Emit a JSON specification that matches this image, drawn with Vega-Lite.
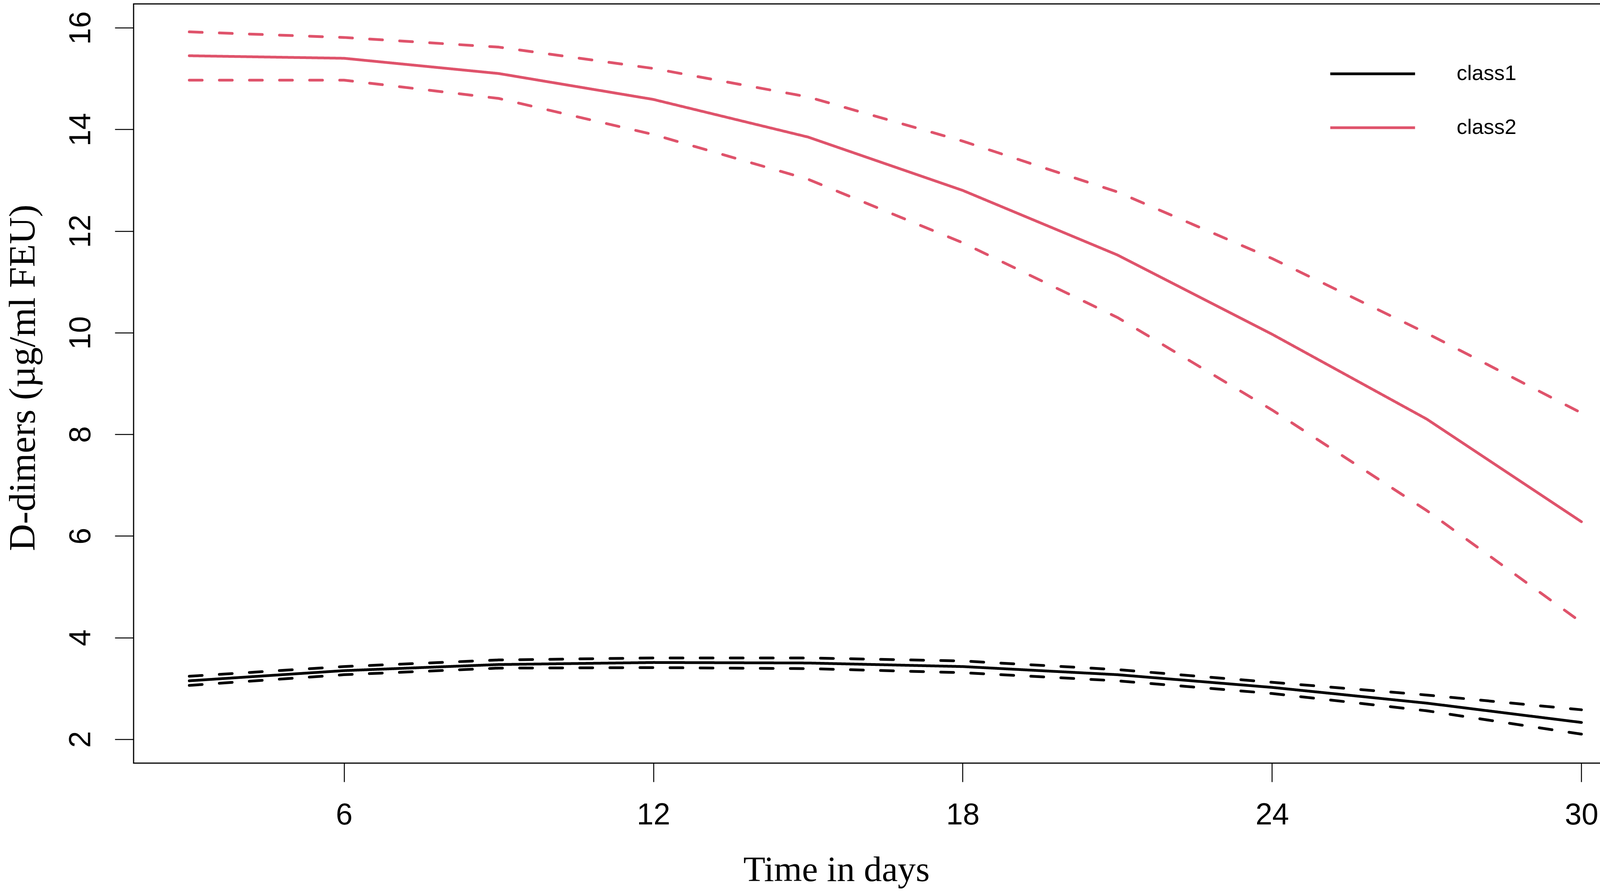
{
  "$schema": "https://vega.github.io/schema/vega-lite/v6.json",
  "autosize": {"type": "none"},
  "width": 3849,
  "height": 1944,
  "padding": {"left": 342, "top": 10, "right": 9, "bottom": 330},
  "background": "white",
  "config": {
    "view": {"stroke": "black", "strokeWidth": 3},
    "axis": {
      "domain": false,
      "grid": false,
      "ticks": true,
      "tickColor": "black",
      "tickWidth": 2.5,
      "tickSize": 48,
      "labelFont": "Liberation Sans",
      "labelFontSize": 77,
      "labelColor": "black",
      "titleFont": "Liberation Serif",
      "titleFontWeight": "normal",
      "titleColor": "black"
    }
  },
  "data": {
    "values": [
      {"class": "class1", "bound": "mean", "day": 3, "value": 3.15},
      {"class": "class1", "bound": "mean", "day": 6, "value": 3.35},
      {"class": "class1", "bound": "mean", "day": 9, "value": 3.47},
      {"class": "class1", "bound": "mean", "day": 12, "value": 3.51},
      {"class": "class1", "bound": "mean", "day": 15, "value": 3.5},
      {"class": "class1", "bound": "mean", "day": 18, "value": 3.43},
      {"class": "class1", "bound": "mean", "day": 21, "value": 3.27},
      {"class": "class1", "bound": "mean", "day": 24, "value": 3.02},
      {"class": "class1", "bound": "mean", "day": 27, "value": 2.71},
      {"class": "class1", "bound": "mean", "day": 30, "value": 2.33},
      {"class": "class1", "bound": "upper", "day": 3, "value": 3.24},
      {"class": "class1", "bound": "upper", "day": 6, "value": 3.43},
      {"class": "class1", "bound": "upper", "day": 9, "value": 3.56},
      {"class": "class1", "bound": "upper", "day": 12, "value": 3.6},
      {"class": "class1", "bound": "upper", "day": 15, "value": 3.6},
      {"class": "class1", "bound": "upper", "day": 18, "value": 3.54},
      {"class": "class1", "bound": "upper", "day": 21, "value": 3.37},
      {"class": "class1", "bound": "upper", "day": 24, "value": 3.12},
      {"class": "class1", "bound": "upper", "day": 27, "value": 2.87},
      {"class": "class1", "bound": "upper", "day": 30, "value": 2.58},
      {"class": "class1", "bound": "lower", "day": 3, "value": 3.06},
      {"class": "class1", "bound": "lower", "day": 6, "value": 3.27},
      {"class": "class1", "bound": "lower", "day": 9, "value": 3.4},
      {"class": "class1", "bound": "lower", "day": 12, "value": 3.41},
      {"class": "class1", "bound": "lower", "day": 15, "value": 3.39},
      {"class": "class1", "bound": "lower", "day": 18, "value": 3.31},
      {"class": "class1", "bound": "lower", "day": 21, "value": 3.15},
      {"class": "class1", "bound": "lower", "day": 24, "value": 2.9},
      {"class": "class1", "bound": "lower", "day": 27, "value": 2.56},
      {"class": "class1", "bound": "lower", "day": 30, "value": 2.1},
      {"class": "class2", "bound": "mean", "day": 3, "value": 15.45},
      {"class": "class2", "bound": "mean", "day": 6, "value": 15.4},
      {"class": "class2", "bound": "mean", "day": 9, "value": 15.1},
      {"class": "class2", "bound": "mean", "day": 12, "value": 14.59},
      {"class": "class2", "bound": "mean", "day": 15, "value": 13.85},
      {"class": "class2", "bound": "mean", "day": 18, "value": 12.8},
      {"class": "class2", "bound": "mean", "day": 21, "value": 11.53},
      {"class": "class2", "bound": "mean", "day": 24, "value": 9.97},
      {"class": "class2", "bound": "mean", "day": 27, "value": 8.3},
      {"class": "class2", "bound": "mean", "day": 30, "value": 6.28},
      {"class": "class2", "bound": "upper", "day": 3, "value": 15.92},
      {"class": "class2", "bound": "upper", "day": 6, "value": 15.81},
      {"class": "class2", "bound": "upper", "day": 9, "value": 15.62},
      {"class": "class2", "bound": "upper", "day": 12, "value": 15.2},
      {"class": "class2", "bound": "upper", "day": 15, "value": 14.64},
      {"class": "class2", "bound": "upper", "day": 18, "value": 13.77},
      {"class": "class2", "bound": "upper", "day": 21, "value": 12.77},
      {"class": "class2", "bound": "upper", "day": 24, "value": 11.46},
      {"class": "class2", "bound": "upper", "day": 27, "value": 9.99},
      {"class": "class2", "bound": "upper", "day": 30, "value": 8.42},
      {"class": "class2", "bound": "lower", "day": 3, "value": 14.97},
      {"class": "class2", "bound": "lower", "day": 6, "value": 14.97},
      {"class": "class2", "bound": "lower", "day": 9, "value": 14.61},
      {"class": "class2", "bound": "lower", "day": 12, "value": 13.9},
      {"class": "class2", "bound": "lower", "day": 15, "value": 13.02},
      {"class": "class2", "bound": "lower", "day": 18, "value": 11.77},
      {"class": "class2", "bound": "lower", "day": 21, "value": 10.3},
      {"class": "class2", "bound": "lower", "day": 24, "value": 8.48},
      {"class": "class2", "bound": "lower", "day": 27, "value": 6.5},
      {"class": "class2", "bound": "lower", "day": 30, "value": 4.3}
    ]
  },
  "mark": {"type": "line", "strokeWidth": 7, "strokeCap": "round", "strokeJoin": "round"},
  "encoding": {
    "x": {
      "field": "day",
      "type": "quantitative",
      "scale": {"domain": [1.92, 31.08], "nice": false, "zero": false},
      "axis": {
        "values": [6, 12, 18, 24, 30],
        "labelPadding": 108,
        "labelBaseline": "alphabetic",
        "labelAlign": "center",
        "title": "Time in days",
        "titleFontSize": 92,
        "titleX": 1799,
        "titleY": 301,
        "titleAlign": "center",
        "titleBaseline": "alphabetic"
      }
    },
    "y": {
      "field": "value",
      "type": "quantitative",
      "scale": {"domain": [1.53, 16.47], "nice": false, "zero": false},
      "axis": {
        "values": [2, 4, 6, 8, 10, 12, 14, 16],
        "labelAngle": 270,
        "labelAlign": "center",
        "labelBaseline": "alphabetic",
        "labelPadding": 64,
        "title": "D-dimers (µg/ml FEU)",
        "titleFontSize": 96,
        "titleAngle": 270,
        "titleX": -254,
        "titleY": 957,
        "titleAlign": "center",
        "titleBaseline": "alphabetic"
      }
    },
    "color": {
      "field": "class",
      "type": "nominal",
      "scale": {"domain": ["class1", "class2"], "range": ["black", "#DF536B"]},
      "legend": {
        "title": null,
        "orient": "none",
        "legendX": 3060,
        "legendY": 159,
        "padding": 0,
        "symbolType": "stroke",
        "symbolSize": 47089,
        "symbolStrokeWidth": 7,
        "clipHeight": 40,
        "rowPadding": 84,
        "labelOffset": 103,
        "labelFont": "Liberation Sans",
        "labelFontSize": 54,
        "labelColor": "black",
        "labelBaseline": "middle"
      }
    },
    "strokeDash": {
      "field": "bound",
      "type": "nominal",
      "scale": {"domain": ["mean", "upper", "lower"], "range": [[1, 0], [33, 44], [33, 44]]},
      "legend": null
    }
  }
}
